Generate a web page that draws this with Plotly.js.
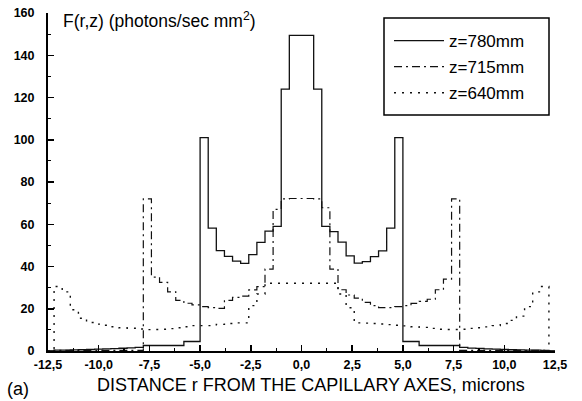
<!DOCTYPE html>
<html>
<head>
<meta charset="utf-8">
<script src="https://cdn.plot.ly/plotly-3.0.1.min.js"></script>
<style>html,body{margin:0;padding:0;background:#fff;}#chart{width:582px;height:401px;}</style>
</head>
<body>
<div id="chart"></div>
<script>
// Bin edges of the radial histogram (microns)
var rEdges = [-12.2,-11.8,-11.4,-11.0,-10.6,-10.2,-9.8,-9.4,-9.0,-8.6,-8.2,-7.8,-7.4,-7.0,-6.6,-6.2,-5.8,-5.4,-5.0,-4.6,-4.2,-3.8,-3.4,-3.0,-2.6,-2.2,-1.8,-1.4,-1.0,-0.6,-0.2,0.2,0.6,1.0,1.4,1.8,2.2,2.6,3.0,3.4,3.8,4.2,4.6,5.0,5.4,5.8,6.2,6.6,7.0,7.4,7.8,8.2,8.6,9.0,9.4,9.8,10.2,10.6,11.0,11.4,11.8,12.2];
var rMin = -12.5, rMax = 12.5;

// F(r,z) per bin, photons/sec mm^2
var f780 = [0.4,0.4,0.5,0.6,0.7,0.9,1.0,1.1,1.3,1.5,1.7,2.6,2.6,2.6,2.6,2.6,4.5,4.5,101,58.2,47.5,44.8,42.5,41.5,45.6,51.4,56.7,59,124,149.4,149.4,149.4,124,59,56.5,51.5,45,41.6,42.3,44.7,47.4,58.2,101,4.5,4.5,2.6,2.6,2.6,2.6,2.6,1.7,1.4,1.2,1.0,0.9,0.7,0.6,0.5,0.4,0.4,0.3];
var f715 = [0.3,0.3,0.3,0.3,0.3,0.3,0.3,0.3,0.3,0.3,0.3,72,35,32.5,28,24,22.6,21.8,21,20.5,20.2,24,25.4,26,28.9,30.5,38.8,67,72,72.2,72.2,72.2,72,67.8,38.8,29,26.5,25,23,21.5,20.5,20.5,21,21.5,22.5,23.5,24.5,29,34,72,0.3,0.3,0.3,0.3,0.3,0.3,0.3,0.3,0.3,0.3,0.3];
var f640 = [30.5,28,19.5,15.5,13.5,12.7,12.2,11.5,11,10.8,10.4,10.1,10.2,10.3,10.6,11,11.5,12,12,12,12.6,13,13.3,13.3,21.5,27,32.1,32.1,32.1,32.1,32.1,32.1,32.1,32.1,32.1,27,20.5,13.3,13.2,13,12.8,12.5,12.2,11.9,11.5,11.2,10.7,10.3,10.2,10.2,10.3,10.7,11,11.4,12,13,14.5,16.5,21,28,30.5];

var seriesNames = ["z=780mm","z=715mm","z=640mm"];

var xTickVals = [-12.5,-10,-7.5,-5,-2.5,0,2.5,5,7.5,10,12.5];
var xTickText = ["-12,5","-10,0","-7,5","-5,0","-2,5","0,0","2,5","5,0","7,5","10,0","12,5"];
var yTickVals = [0,20,40,60,80,100,120,140,160];

function stepTrace(vals, name, dash, width, grp){
  return {
    x: [rMin].concat(rEdges, [rMax]),
    y: [0].concat(vals, [0, 0]),
    type: 'scatter', mode: 'lines', name: name,
    legendgroup: grp,
    line: {shape: 'hv', color: '#111', width: width, dash: dash},
    hoverinfo: 'skip'
  };
}

var data = [
  stepTrace(f780, seriesNames[0], 'solid', 1.3, 'a'),
  stepTrace(f715, seriesNames[1], '8px,4px,2px,4px', 1.2, 'b'),
  stepTrace(f640, seriesNames[2], '2px,6px', 1.4, 'c')
];

var fontFam = '"Liberation Sans", Arial, sans-serif';
var W = 582, H = 401, L = 48, R = 27, T = 13, B = 50;
var pw = W - L - R, ph = H - T - B;
function px(x){ return (x - L) / pw; }
function py(y){ return (H - B - y) / ph; }

var layout = {
  width: W, height: H,
  margin: {l: L, r: R, t: T, b: B},
  paper_bgcolor: '#fff', plot_bgcolor: '#fff',
  font: {family: fontFam, color: '#000'},
  showlegend: true,
  legend: {
    x: px(389), y: py(23), xanchor: 'left', yanchor: 'top',
    bgcolor: 'rgba(0,0,0,0)', borderwidth: 0,
    font: {family: fontFam, size: 17, color: '#000'},
    tracegroupgap: 1, itemwidth: 50
  },
  shapes: [
    {type: 'rect', xref: 'paper', yref: 'paper', x0: px(384), x1: px(549), y0: py(115), y1: py(18),
     line: {color: '#000', width: 1.5}, fillcolor: '#fff', layer: 'below'}
  ],
  xaxis: {
    range: [rMin, rMax], showgrid: false, zeroline: false,
    showline: true, linecolor: '#000', linewidth: 2,
    ticks: 'inside', ticklen: 6, tickwidth: 1.5, tickcolor: '#000',
    tickvals: xTickVals, ticktext: xTickText,
    tickfont: {family: fontFam, size: 12.5, weight: 'bold', color: '#000'},
    ticklabelstandoff: 1,
    minor: {dtick: 1.25, ticks: 'inside', ticklen: 3, tickwidth: 1.2, tickcolor: '#000', showgrid: false}
  },
  yaxis: {
    range: [0, 160], showgrid: false, zeroline: false,
    showline: true, linecolor: '#000', linewidth: 2,
    ticks: 'inside', ticklen: 6, tickwidth: 1.5, tickcolor: '#000',
    tickvals: yTickVals,
    tickfont: {family: fontFam, size: 12.5, weight: 'bold', color: '#000'},
    ticklabelstandoff: 9,
    minor: {dtick: 10, ticks: 'inside', ticklen: 3, tickwidth: 1.2, tickcolor: '#000', showgrid: false}
  },
  annotations: [
    {text: 'F(r,z) (photons/sec mm<sup>2</sup>)', xref: 'paper', yref: 'paper',
     x: px(61), y: py(20), xanchor: 'left', yanchor: 'middle', showarrow: false,
     font: {family: fontFam, size: 17.5, color: '#000'}},
    {text: 'DISTANCE r FROM THE CAPILLARY AXES, microns', xref: 'paper', yref: 'paper',
     x: px(311), y: py(385), xanchor: 'center', yanchor: 'middle', showarrow: false,
     font: {family: fontFam, size: 18, color: '#000'}},
    {text: '(a)', xref: 'paper', yref: 'paper',
     x: px(18), y: py(389), xanchor: 'center', yanchor: 'middle', showarrow: false,
     font: {family: fontFam, size: 18, color: '#000'}}
  ]
};

Plotly.newPlot('chart', data, layout, {displayModeBar: false, staticPlot: true});
</script>
</body>
</html>
